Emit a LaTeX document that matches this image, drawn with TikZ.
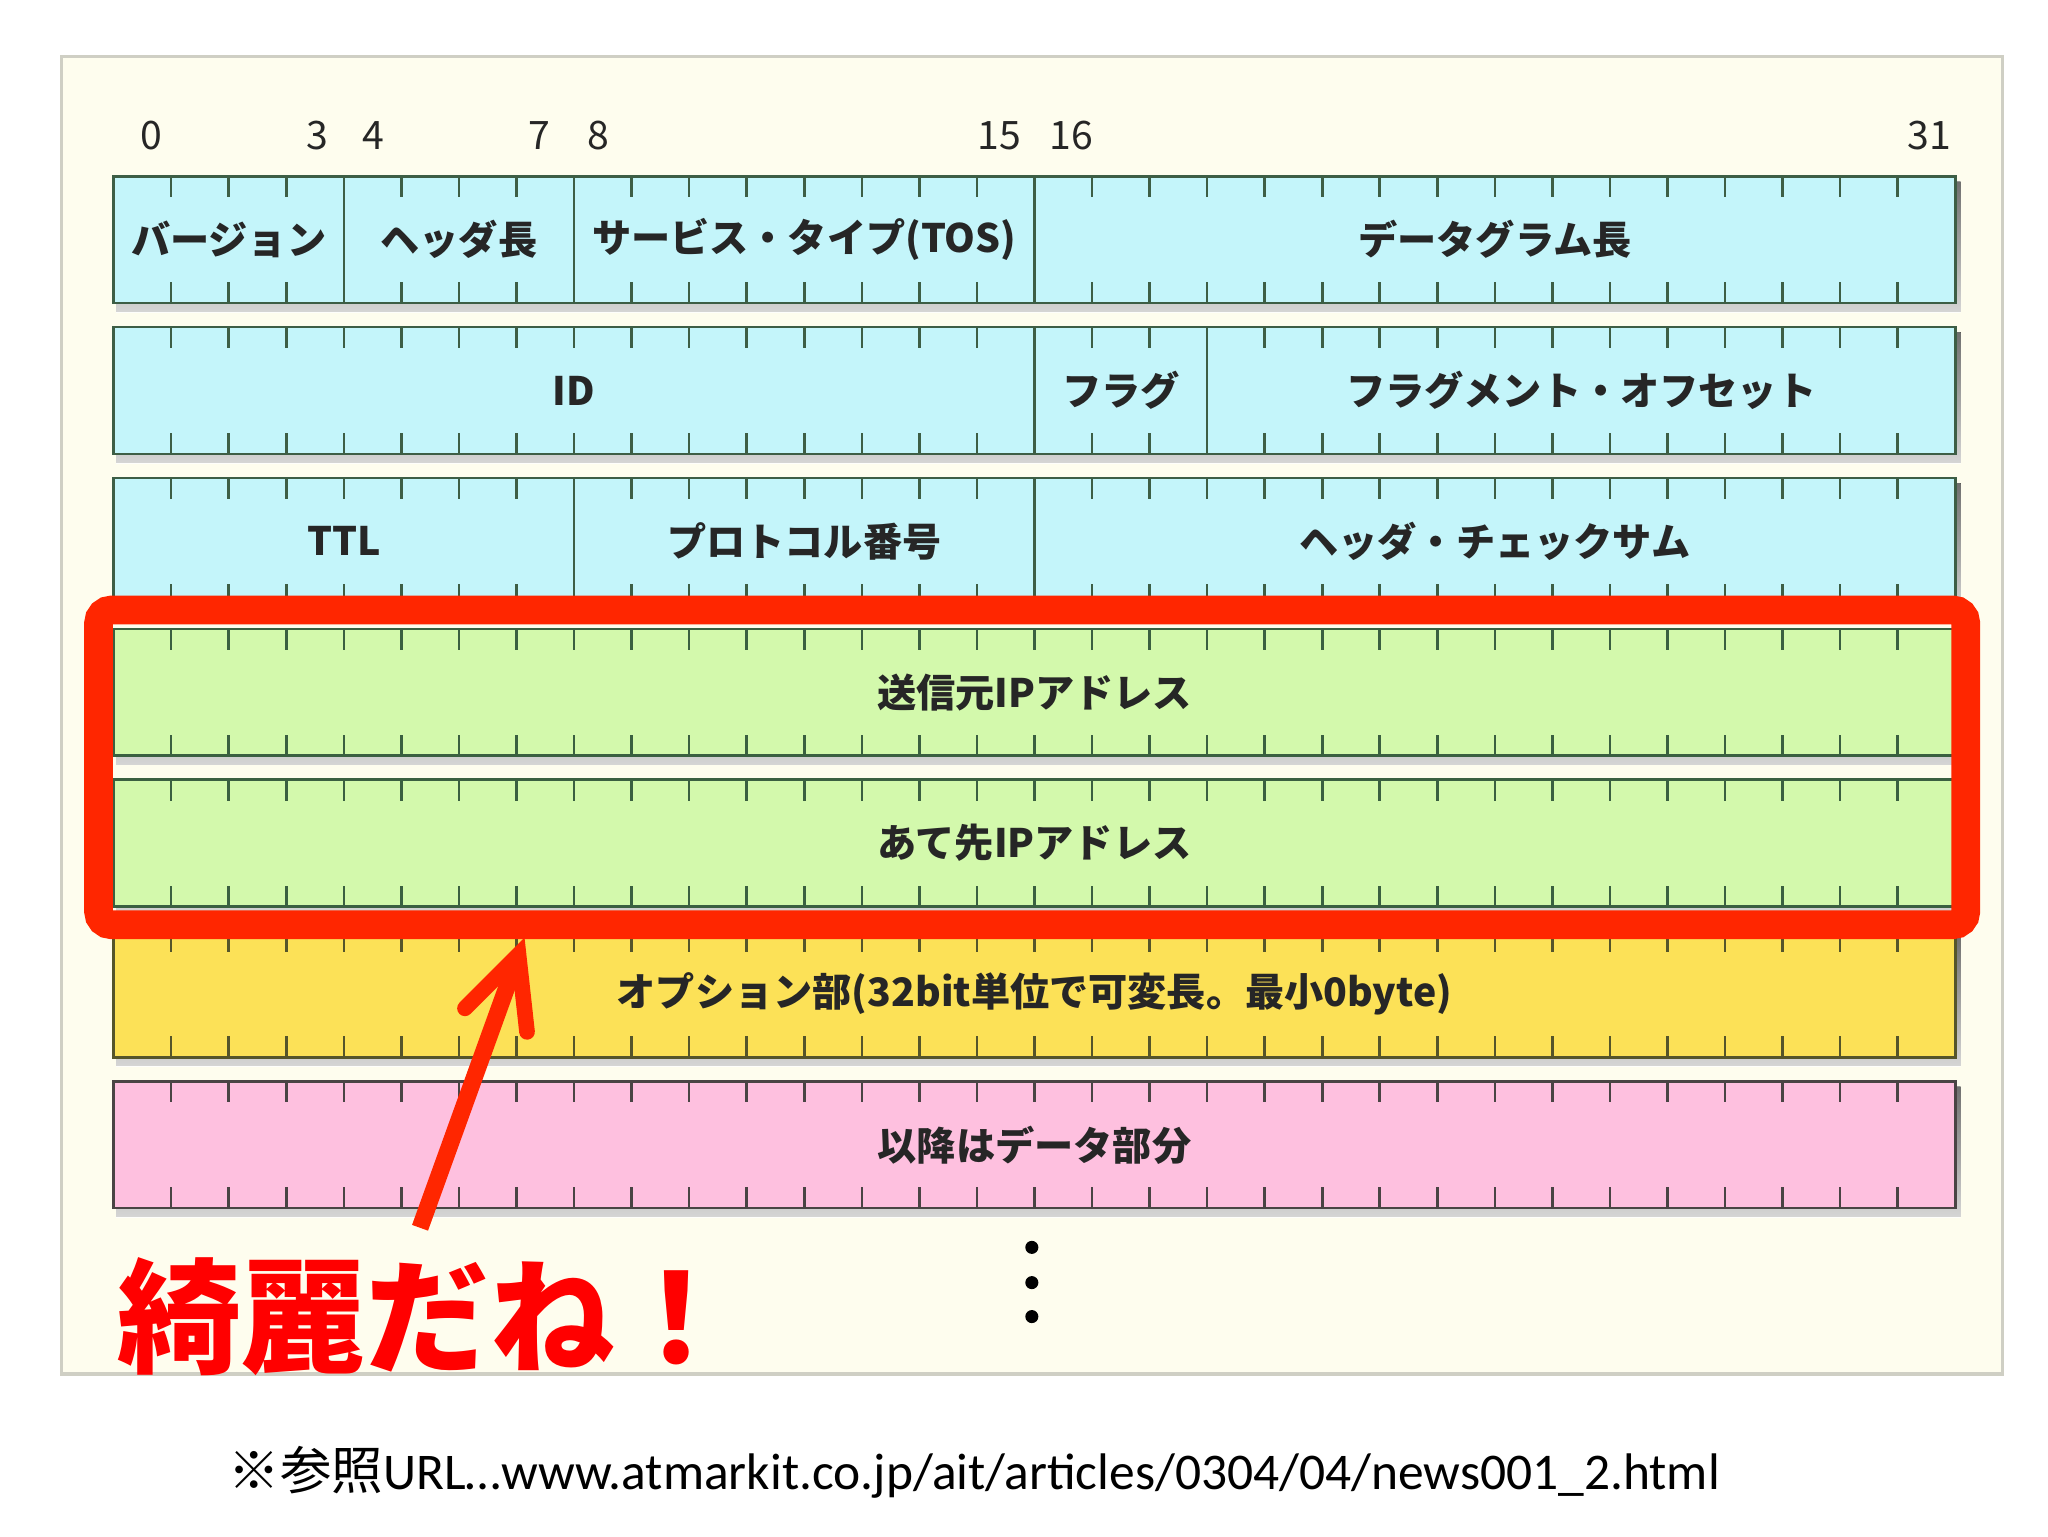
\documentclass[tikz,border=0pt]{standalone}
\usepackage{fontspec}
\usetikzlibrary{calc}
\setmainfont{Carlito}
\newfontfamily\jp{Noto Sans CJK JP}
\definecolor{panelF}{HTML}{FEFDEE}
\definecolor{panelD}{HTML}{CFCFC4}
\definecolor{cyanF}{HTML}{C4F5FA}
\definecolor{cyanD}{HTML}{3D5E45}
\definecolor{greenF}{HTML}{D3F9AC}
\definecolor{greenD}{HTML}{3A6040}
\definecolor{yellowF}{HTML}{FCE157}
\definecolor{yellowD}{HTML}{55552A}
\definecolor{pinkF}{HTML}{FEC0DF}
\definecolor{pinkD}{HTML}{4A4444}
\definecolor{txt}{HTML}{262626}
\definecolor{boxred}{HTML}{FF2600}
\definecolor{shade}{HTML}{BDBCAC}
\tikzset{
  cellbox/.style={draw, line width=2pt, inner sep=0pt, minimum height=97pt,
    font=\jp\bfseries\fontsize{30}{30}\selectfont, text=txt},
  cy/.style={cellbox, fill=cyanF, draw=cyanD},
  gr/.style={cellbox, fill=greenF, draw=greenD},
  ye/.style={cellbox, fill=yellowF, draw=yellowD},
  pk/.style={cellbox, fill=pinkF, draw=pinkD},
  bitnum/.style={font=\jp\fontsize{30}{30}\selectfont, text=txt, inner sep=0pt},
  tickmark/.style={line width=2pt},
}
% \cell{name}{bit0}{bit1}{top}{style}{text}
\newcommand\cell[6]{%
  \node[#5, minimum width={(#3-#2)*44.0625pt}] (#1) at ({87+44.0625*(#2+#3)/2},{#4+48.5}) {#6};}
\newcommand\rowbase[1]{%
  \fill[shade, opacity=0.8] (89,{#1+4}) rectangle (1501,{#1+104});}
\newcommand\rowticks[2]{%
  \foreach \i in {1,...,31}{
    \draw[tickmark, #2] ({87+44.0625*\i},#1) -- ++(0,16)
      ({87+44.0625*\i},{#1+97}) -- ++(0,-16);}}
\begin{document}
\begin{tikzpicture}[x=1pt,y=-1pt]
\useasboundingbox (0,0) rectangle (1568,1176);
\fill[white] (0,0) rectangle (1568,1176);
% panel
\node[draw=panelD, fill=panelF, line width=2.5pt, minimum width=1486pt, minimum height=1009pt, inner sep=0pt] (panel) at (790,547.5) {};

% bit numbers
\node[bitnum] (n0)  at (116,104) {0};
\node[bitnum] (n3)  at (243,104) {3};
\node[bitnum] (n4)  at (286,104) {4};
\node[bitnum] (n7)  at (413,104) {7};
\node[bitnum] (n8)  at (458,104) {8};
\node[bitnum] (n15) at (765,104) {15};
\node[bitnum] (n16) at (820,104) {16};
\node[bitnum] (n31) at (1477,104) {31};

% row shadows
\foreach \t in {135,250.5,366,481.5,597,712.5,828}{\rowbase{\t}}

% row 1
\cell{ver}{0}{4}{135}{cy}{バージョン}
\cell{ihl}{4}{8}{135}{cy}{ヘッダ長}
\cell{tos}{8}{16}{135}{cy}{サービス・タイプ(TOS)}
\cell{len}{16}{32}{135}{cy}{データグラム長}
\rowticks{135}{cyanD}
% row 2
\cell{id}{0}{16}{250.5}{cy}{ID}
\cell{flg}{16}{19}{250.5}{cy}{フラグ}
\cell{off}{19}{32}{250.5}{cy}{フラグメント・オフセット}
\rowticks{250.5}{cyanD}
% row 3
\cell{ttl}{0}{8}{366}{cy}{TTL}
\cell{proto}{8}{16}{366}{cy}{プロトコル番号}
\cell{csum}{16}{32}{366}{cy}{ヘッダ・チェックサム}
\rowticks{366}{cyanD}
% row 4-5
\cell{src}{0}{32}{481.5}{gr}{送信元IPアドレス}
\rowticks{481.5}{greenD}
\cell{dst}{0}{32}{597}{gr}{あて先IPアドレス}
\rowticks{597}{greenD}
% row 6
\cell{opt}{0}{32}{712.5}{ye}{オプション部(32bit単位で可変長。最小0byte)}
\rowticks{712.5}{yellowD}
% row 7
\cell{data}{0}{32}{828}{pk}{以降はデータ部分}
\rowticks{828}{pinkD}

% continuation dots
\fill[black] (790,955) circle (5pt) (790,982) circle (5pt) (790,1008) circle (5pt);

% highlight box
\node[draw=boxred, line width=22pt, rounded corners=10pt, minimum width=1429.5pt, minimum height=241pt, inner sep=0pt] (hl) at (790.25,587.5) {};

% arrow
\coordinate (atail) at (321.6,940);
\coordinate (atip) at (397,731);
\coordinate (wl) at (356,772);
\coordinate (wr) at (403.5,790);
\draw[boxred, line width=13pt] (atail) -- ($(atip)!10pt!(atail)$);
\draw[boxred, line width=12pt, line cap=round, line join=miter] (wl) -- (atip) -- (wr);

% comment
\node[anchor=west, text=red, font=\jp\bfseries\fontsize{95}{95}\selectfont, inner sep=0pt] (kirei) at (90,1008) {綺麗だね！};

% footer
\node[anchor=base west, inner sep=0pt, font=\fontsize{39.4}{39.4}\selectfont] (ref) at (175,1140) {{\jp ※参照}URL…www.atmarkit.co.jp/ait/articles/0304/04/news001\_2.html};
\end{tikzpicture}
\end{document}
